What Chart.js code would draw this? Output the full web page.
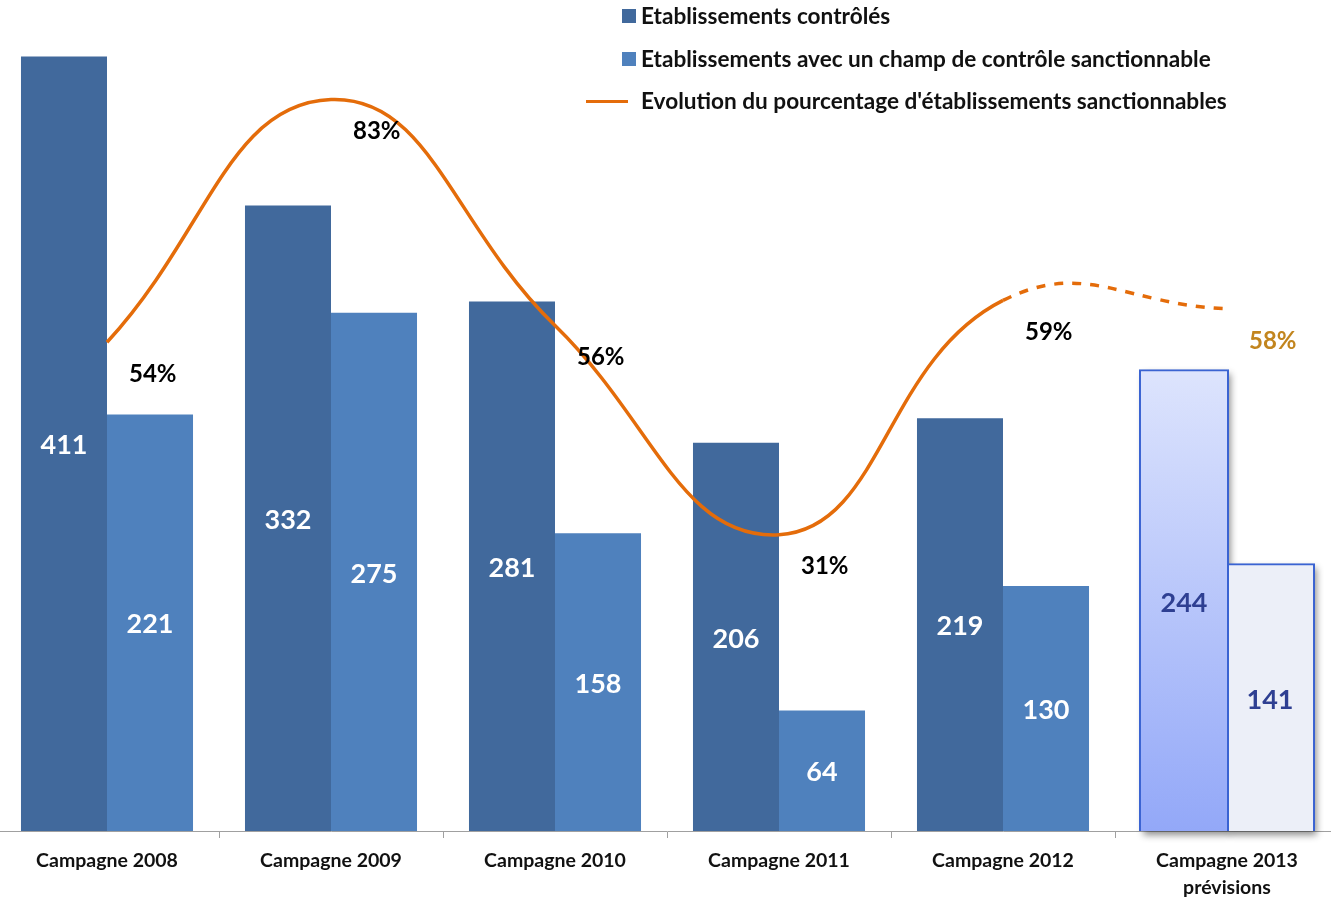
<!DOCTYPE html>
<html lang="fr">
<head>
<meta charset="utf-8">
<title>Etablissements contrôlés et sanctionnables</title>
<script src="https://cdn.jsdelivr.net/npm/chart.js"></script>
<style>
  html, body { margin: 0; padding: 0; background: #ffffff; overflow: hidden; }
  body { width: 1331px; height: 898px; position: relative; font-family: Lato, "Open Sans", sans-serif; }
  #wrap { position: absolute; left: -5px; top: 0; width: 1344px; height: 898px; }
  #legend { position: absolute; left: 585px; top: 0; font-weight: 700; font-size: 22.6px; color: #111; }
  #legend .row { position: absolute; left: 0; height: 24px; line-height: 24px; white-space: nowrap; }
  #legend .sq { position: absolute; width: 14px; height: 14px; left: 37px; top: 5px; }
  #legend .ln { position: absolute; width: 42px; height: 3px; left: 1px; top: 11px; background: #E46C0A; }
  #legend .tx { position: absolute; left: 56px; top: 0; }
</style>
</head>
<body>
<div id="wrap"><canvas id="chart" width="1344" height="898"></canvas></div>
<div id="legend">
  <div class="row" style="top:4px"><span class="sq" style="background:#41699C"></span><span class="tx">Etablissements contrôlés</span></div>
  <div class="row" style="top:47px"><span class="sq" style="background:#4F81BD"></span><span class="tx">Etablissements avec un champ de contrôle sanctionnable</span></div>
  <div class="row" style="top:89px"><span class="ln"></span><span class="tx">Evolution du pourcentage d'établissements sanctionnables</span></div>
</div>
<script>
// Campagnes de contrôle (la dernière est une prévision)
const categories = ['Campagne 2008', 'Campagne 2009', 'Campagne 2010', 'Campagne 2011', 'Campagne 2012', ['Campagne 2013', 'prévisions']];
const controles = [411, 332, 281, 206, 219, 244];
const sanctionnables = [221, 275, 158, 64, 130, 141];
const pourcentages = [54, 83, 56, 31, 59, 58];

const FORECAST = categories.length - 1;
const FONT = 'Lato, "Open Sans", sans-serif';

// Dégradé vertical de la barre prévisionnelle
function forecastGradient(chart) {
  const area = chart.chartArea;
  if (!area) return '#B4C3FA';
  const g = chart.ctx.createLinearGradient(0, area.top + 370, 0, area.bottom);
  g.addColorStop(0, '#DDE4FD');
  g.addColorStop(1, '#93A8F8');
  return g;
}

// Ombre portée des barres prévisionnelles
const forecastShadow = {
  id: 'forecastShadow',
  beforeDatasetsDraw(chart) {
    const ctx = chart.ctx;
    chart.data.datasets.forEach((ds, i) => {
      const meta = chart.getDatasetMeta(i);
      if (meta.type !== 'bar') return;
      const el = meta.data[FORECAST];
      if (!el) return;
      ctx.save();
      ctx.shadowColor = 'rgba(0,0,0,0.45)';
      ctx.shadowBlur = 7;
      ctx.shadowOffsetX = 3;
      ctx.shadowOffsetY = 4;
      ctx.fillStyle = '#ffffff';
      ctx.fillRect(el.x - el.width / 2 - 1, el.y - 1, el.width + 2, el.base - el.y + 1);
      ctx.restore();
    });
  }
};

// Étiquettes de valeurs : au centre des barres, à droite des points de la courbe
const valueLabels = {
  id: 'valueLabels',
  afterDatasetsDraw(chart) {
    const ctx = chart.ctx;
    ctx.save();
    chart.data.datasets.forEach((ds, i) => {
      const meta = chart.getDatasetMeta(i);
      meta.data.forEach((el, j) => {
        const v = ds.data[j];
        if (meta.type === 'bar') {
          ctx.font = '700 27px ' + FONT;
          ctx.textAlign = 'center';
          ctx.textBaseline = 'middle';
          ctx.fillStyle = j === FORECAST ? '#2E3F92' : '#ffffff';
          ctx.fillText(String(v), el.x, (el.y + el.base) / 2 + 2);
        } else {
          ctx.font = '700 24px ' + FONT;
          ctx.textAlign = 'left';
          ctx.textBaseline = 'middle';
          ctx.fillStyle = j === FORECAST ? '#C2851E' : '#000000';
          ctx.fillText(v + '%', el.x + 22, el.y + 32);
        }
      });
    });
    ctx.restore();
  }
};

new Chart(document.getElementById('chart'), {
  data: {
    labels: categories,
    datasets: [
      {
        type: 'line',
        label: "Evolution du pourcentage d'établissements sanctionnables",
        data: pourcentages,
        yAxisID: 'y1',
        order: 0,
        borderColor: '#E46C0A',
        borderWidth: 3.5,
        pointRadius: 0,
        tension: 0.45,
        fill: false,
        segment: {
          borderDash: c => c.p1DataIndex === FORECAST ? [9, 9] : undefined
        }
      },
      {
        type: 'bar',
        label: 'Etablissements contrôlés',
        data: controles,
        yAxisID: 'y',
        order: 1,
        backgroundColor: c => c.dataIndex === FORECAST ? forecastGradient(c.chart) : '#41699C',
        borderColor: '#3A63D2',
        borderWidth: c => c.dataIndex === FORECAST ? 2 : 0,
        inflateAmount: c => c.dataIndex === FORECAST ? 2 : 'auto',
        borderSkipped: false,
        categoryPercentage: 0.768,
        barPercentage: 1.0
      },
      {
        type: 'bar',
        label: 'Etablissements avec un champ de contrôle sanctionnable',
        data: sanctionnables,
        yAxisID: 'y',
        order: 1,
        backgroundColor: c => c.dataIndex === FORECAST ? '#ECEFF8' : '#4F81BD',
        borderColor: '#3A63D2',
        borderWidth: c => c.dataIndex === FORECAST ? 2 : 0,
        inflateAmount: c => c.dataIndex === FORECAST ? 2 : 'auto',
        borderSkipped: false,
        categoryPercentage: 0.768,
        barPercentage: 1.0
      }
    ]
  },
  options: {
    responsive: false,
    animation: false,
    maintainAspectRatio: false,
    layout: { padding: 0 },
    plugins: {
      legend: { display: false },
      tooltip: { enabled: false }
    },
    scales: {
      x: {
        offset: true,
        grid: { display: true, drawOnChartArea: false, drawTicks: true, tickLength: 7, color: '#A0A0A0', offset: true },
        border: { display: true, color: '#A0A0A0', width: 1 },
        ticks: {
          color: '#111111',
          padding: 9,
          maxRotation: 0,
          autoSkip: false,
          font: { family: FONT, size: 19.5, weight: '700', lineHeight: 1.4 }
        },
        afterFit(scale) { scale.height = 67; }
      },
      y: { display: false, min: 0, max: 441 },
      y1: { display: false, min: -4.4, max: 94.9, position: 'right' }
    }
  },
  plugins: [forecastShadow, valueLabels]
});
</script>
</body>
</html>
